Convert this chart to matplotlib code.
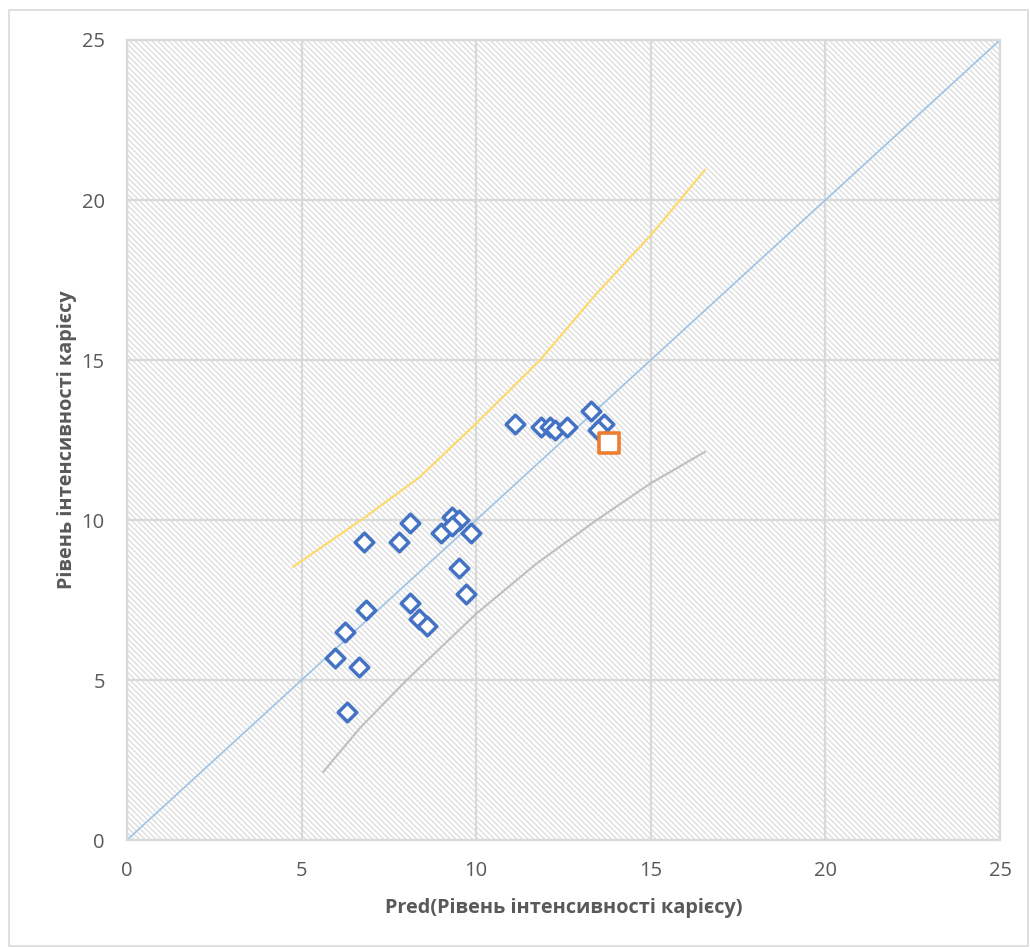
import numpy as np
import matplotlib.pyplot as plt
from matplotlib.patches import Rectangle

plt.rcParams['font.family'] = ['Open Sans', 'DejaVu Sans']
plt.rcParams['hatch.color'] = '#DEDEDE'
plt.rcParams['hatch.linewidth'] = 1.0

# observed vs predicted caries intensity
pred = [11.1, 11.85, 12.1, 12.25, 12.6, 13.3, 13.65, 13.5,
        6.8, 7.8, 8.1, 9.0, 9.3, 9.5, 9.3, 9.85, 9.5, 9.7,
        6.85, 6.25, 5.95, 6.65, 6.3, 8.1, 8.35, 8.6]
actual = [13.0, 12.9, 12.9, 12.8, 12.9, 13.4, 13.0, 12.8,
          9.3, 9.3, 9.9, 9.6, 10.1, 10.0, 9.8, 9.6, 8.5, 7.7,
          7.2, 6.5, 5.7, 5.4, 4.0, 7.4, 6.9, 6.7]

# highlighted observation
pred_hl = [13.8]
actual_hl = [12.4]

# upper / lower interval curves
upper_x = [4.76, 6.77, 8.39, 10.0, 11.83, 13.45, 15.0, 16.55]
upper_y = [8.54, 10.05, 11.35, 13.02, 15.0, 17.08, 18.9, 20.94]
lower_x = [5.62, 6.67, 8.01, 10.01, 11.73, 13.45, 15.0, 16.55]
lower_y = [2.13, 3.5, 5.0, 7.08, 8.64, 10.0, 11.15, 12.13]

diag = [0, 25]

fig = plt.figure(figsize=(10.30, 9.47), dpi=100)
ax = fig.add_axes([127 / 1030, 1 - 840 / 947, 873 / 1030, 800 / 947])

# hatched plot area
ax.add_patch(Rectangle((0, 0), 25, 25, facecolor='white', edgecolor='#DEDEDE',
                       hatch='\\\\\\\\\\\\', linewidth=0, zorder=0))

ax.set_xlim(0, 25)
ax.set_ylim(0, 25)
ticks = [0, 5, 10, 15, 20, 25]
ax.set_xticks(ticks)
ax.set_yticks(ticks)
ax.grid(True, color='#D9D9D9', linewidth=1.6, zorder=1)
ax.set_axisbelow(True)
for s in ax.spines.values():
    s.set_color('#D9D9D9')
    s.set_linewidth(1.6)
ax.tick_params(length=0, labelsize=14.5, labelcolor='#595959')
ax.tick_params(axis='x', pad=15)
ax.tick_params(axis='y', pad=16)

ax.plot(diag, diag, color='#9DC3E6', linewidth=1.2, zorder=2)
ax.plot(upper_x, upper_y, color='#FFD966', linewidth=1.5, zorder=2)
ax.plot(lower_x, lower_y, color='#BFBFBF', linewidth=1.5, zorder=2)

ax.scatter(pred, actual, marker='D', s=90, facecolor='white',
           edgecolor='#4472C4', linewidth=2.5, zorder=3)
ax.scatter(pred_hl, actual_hl, marker='s', s=200, facecolor='white',
           edgecolor='#ED7D31', linewidth=2.6, zorder=4)

ax.set_xlabel('Pred(Рівень інтенсивності карієсу)', fontsize=14.3,
              fontweight='bold', color='#595959', labelpad=12)
ax.set_ylabel('Рівень інтенсивності карієсу', fontsize=14.3,
              fontweight='bold', color='#595959', labelpad=3)

# chart border
fig.patches.append(Rectangle((9 / 1030, 1 / 947), 1019 / 1030, 936 / 947,
                             transform=fig.transFigure, fill=False,
                             edgecolor='#D9D9D9', linewidth=1.2))

fig.savefig('out.png', dpi=100)
